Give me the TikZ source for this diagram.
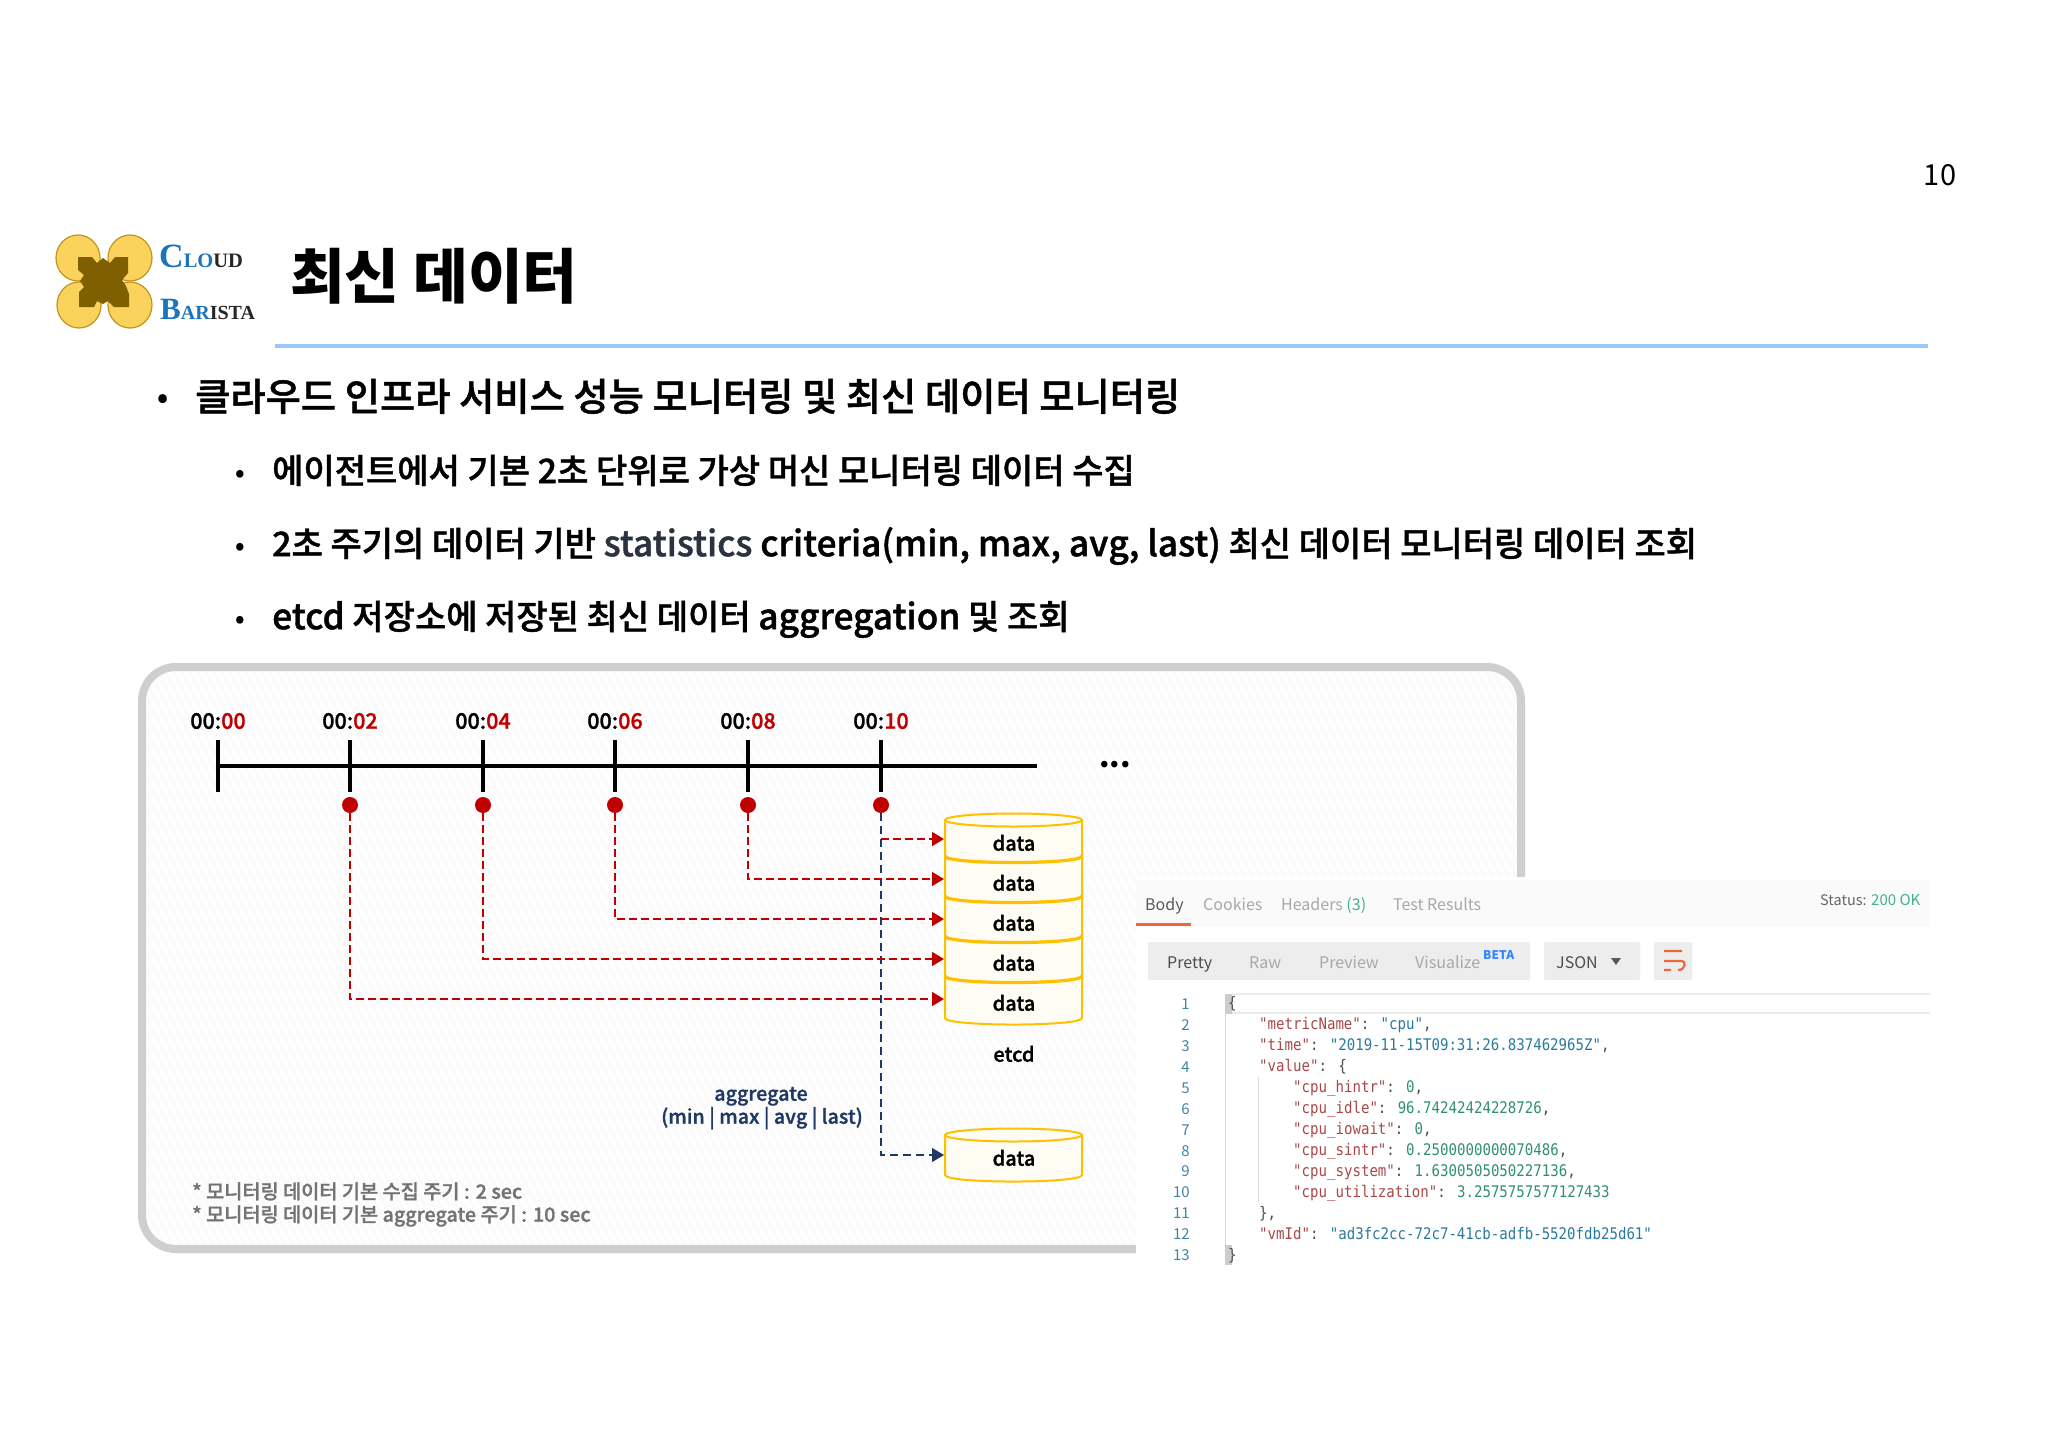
\documentclass[tikz,border=0pt]{standalone}
\usepackage{fontspec}
\setmainfont{Noto Sans CJK KR}
\newfontfamily\krm[FakeBold=1.2]{Noto Sans CJK KR Medium}
\newfontfamily\serifl{Liberation Serif}
\newfontfamily\monol[FakeStretch=0.88]{DejaVu Sans Mono}
\usetikzlibrary{arrows.meta,calc}
\newcommand\fs[1]{\fontsize{#1}{#1}\selectfont}
\definecolor{panelgray}{HTML}{D0CECE}
\definecolor{gold}{HTML}{FFC000}
\definecolor{cylfill}{HTML}{FFFDF3}
\definecolor{darkred}{HTML}{C00000}
\definecolor{navy}{HTML}{1F3864}
\definecolor{keyc}{HTML}{A8484A}
\definecolor{strc}{HTML}{2A7A9E}
\definecolor{numc}{HTML}{2F9070}
\definecolor{gutc}{HTML}{3C86A8}
\definecolor{tabg}{HTML}{A8A8A8}
\definecolor{orangeb}{HTML}{F0663A}
\definecolor{okg}{HTML}{45B08C}
\definecolor{logoblue}{HTML}{1B75BC}
\definecolor{lobe}{HTML}{FBD35C}
\definecolor{lobeline}{HTML}{BF9420}
\definecolor{logobrown}{HTML}{7F6000}
\definecolor{rulec}{HTML}{99C8FA}
\tikzset{
  txt/.style={inner sep=0pt,anchor=mid west,font=\krm},
  ctr/.style={inner sep=0pt,anchor=mid,font=\krm},
  tab/.style={inner sep=0pt,anchor=mid west,text=tabg,font=\fs{16}},
  reddash/.style={draw=darkred,line width=1.6pt,dash pattern=on 8pt off 4pt,-{Triangle[length=12pt,width=14pt]}},
  navydash/.style={draw=navy,line width=1.2pt,dash pattern=on 8pt off 5pt,-{Triangle[length=12pt,width=14pt]}},
  dot/.style={circle,fill=darkred,inner sep=0pt,minimum size=16pt},
  cyl/.style={draw=gold,line width=2pt,fill=cylfill},
  tickm/.style={line width=3.2pt,black},
  code/.style={inner sep=0pt,anchor=mid west,font=\monol\fs{16}},
  lno/.style={inner sep=0pt,anchor=mid east,text=gutc,font=\fs{15}},
}
\newcommand\jk[1]{\textcolor{keyc}{#1}}
\newcommand\js[1]{\textcolor{strc}{#1}}
\newcommand\jn[1]{\textcolor{numc}{#1}}
\newcommand\jp[1]{\textcolor{black!70}{#1}}
\begin{document}
\begin{tikzpicture}[x=1pt,y=-1pt]
\useasboundingbox (0,0) rectangle (2048,1449);
\fill[white] (0,0) rectangle (2048,1449);
% page number
\node[inner sep=0pt,font=\fs{29}] (pageno) at (1940,175) {10};
% logo
\foreach \cx/\cy in {78/258,130/258,79/305,130/305}
  \draw[draw=lobeline,line width=1.2pt,fill=lobe] (\cx,\cy) ellipse (22 and 23);
\fill[logobrown] (78,257) -- (92,257) -- (97,263) -- (103,258) -- (110,263) -- (115,257) -- (128,257) -- (128,273) -- (122,280) -- (126,286) -- (129,294) -- (129,307) -- (114,307) -- (108,301) -- (103,304) -- (97,301) -- (94,307) -- (79,307) -- (79,292) -- (84,287) -- (80,281) -- (84,275) -- (78,270) -- cycle;
\node[inner sep=0pt,anchor=mid west] (logoa) at (159,265) {\serifl\bfseries\fs{34}\textcolor{logoblue}{C}\fs{20.5}\textcolor{logoblue}{LO}\textcolor{black!85}{UD}};
\node[inner sep=0pt,anchor=mid west] (logob) at (160,317) {\serifl\bfseries\fs{31}\textcolor{logoblue}{B}\fs{20}\textcolor{logoblue}{AR}\textcolor{black!85}{ISTA}};
% title
\node[txt,font=\bfseries\fs{59.5}] (title) at (290,296) {최신 데이터};
\coordinate (ruleA) at (275,346);
\coordinate (ruleB) at (1928,346);
\draw[line width=4pt,rulec] (ruleA) -- (ruleB);
% bullets
\node[ctr,font=\bfseries\fs{28}] (b0) at (163,405) {•};
\node[txt,font=\krm\fs{38.3}] (t0) at (195,408) {클라우드 인프라 서비스 성능 모니터링 및 최신 데이터 모니터링};
\node[ctr,font=\bfseries\fs{24}] (b1) at (240,479) {•};
\node[txt,font=\krm\fs{34}] (t1) at (272,480.5) {에이전트에서 기본 2초 단위로 가상 머신 모니터링 데이터 수집};
\node[ctr,font=\bfseries\fs{24}] (b2) at (240,552) {•};
\node[txt,font=\krm\fs{34}] (t2) at (272,553.5) {2초 주기의 데이터 기반 {\fs{35.3}\textcolor[HTML]{2B3340}{statistics} criteria(min, max, avg, last)} 최신 데이터 모니터링 데이터 조회};
\node[ctr,font=\bfseries\fs{24}] (b3) at (240,625) {•};
\node[txt,font=\krm\fs{34}] (t3) at (272,626.5) {{\fs{35.3}etcd} 저장소에 저장된 최신 데이터 {\fs{35.3}aggregation} 및 조회};
% panel
\fill[fill={rgb,255:red,253;green,253;blue,254},rounded corners=34pt] (142,667) rectangle (1521,1249);
\begin{scope}
\clip[rounded corners=34pt] (142,667) rectangle (1521,1249);
\foreach \i in {-400,-392,...,1520}
  \draw[black!2.5,line width=1.5pt] (\i,660) -- ({\i+300},1260);
\end{scope}
\draw[draw=panelgray,line width=8pt,rounded corners=34pt] (142,667) rectangle (1521,1249);
% timeline
\coordinate (axisA) at (218,766);
\coordinate (axisB) at (1037,766);
\draw[line width=3.6pt,black] (axisA) -- (axisB);
\foreach \x/\a/\b in {218/00/00,350/00/02,483/00/04,615/00/06,748/00/08,881/00/10}{
  \coordinate (tu\b) at (\x,740);
  \coordinate (td\b) at (\x,792);
  \draw[tickm] (tu\b) -- (td\b);
  \node[ctr,font=\krm\fs{21.5}] (lab\b) at (\x,726) {\a:\textcolor{darkred}{\b}};
}
\node[ctr,font=\bfseries\fs{30}] (more) at (1115,765) {...};
\foreach \b/\x in {02/350,04/483,06/615,08/748,10/881}
  \node[dot] (d\b) at (\x,805) {};
% etcd cylinder
\path[cyl,draw=none] (945,820) -- (945,1018) .. controls +(0,8.7) and +(0,8.7) .. (1082,1018) -- (1082,820) -- cycle;
\draw[cyl,fill=none] (945,820) -- (945,1018) .. controls +(0,8.7) and +(0,8.7) .. (1082,1018) -- (1082,820);
\foreach \y in {856,896,936,976}
  \draw[draw=gold,line width=3.2pt] (945,\y) .. controls +(0,8.7) and +(0,8.7) .. (1082,\y);
\draw[cyl,fill=cylfill] (1013.5,820) ellipse (68.5 and 6.5);
\foreach \y/\n in {848/1,888/2,928/3,968/4,1008/5}
  \node[ctr,font=\krm\fs{20}] (data\n) at (1014,\y) {data};
\node[ctr,font=\krm\fs{20}] (etcd) at (1014,1059) {etcd};
% aggregate cylinder
\path[fill=cylfill] (945,1135) -- (945,1175) .. controls +(0,8.7) and +(0,8.7) .. (1082,1175) -- (1082,1135) -- cycle;
\draw[cyl,fill=none] (945,1135) -- (945,1175) .. controls +(0,8.7) and +(0,8.7) .. (1082,1175) -- (1082,1135);
\draw[cyl,fill=cylfill] (1013.5,1135) ellipse (68.5 and 6.5);
\node[ctr,font=\krm\fs{20}] (data6) at (1014,1163) {data};
% connectors
\foreach \n/\y in {a/839,b/879,c/919,d/959,e/999}
  \coordinate (in\n) at (944,\y);
\coordinate (agg) at (944,1155);
\coordinate (br10) at (881,839);
\draw[navydash] (d10.south) |- (agg);
\draw[reddash] (br10) -- (ina);
\draw[reddash] (d08.south) |- (inb);
\draw[reddash] (d06.south) |- (inc);
\draw[reddash] (d04.south) |- (ind);
\draw[reddash] (d02.south) |- (ine);
\node[ctr,text=navy,font=\krm\fs{19.7}] (aggr1) at (761,1098) {aggregate};
\node[ctr,text=navy,font=\krm\fs{19.7}] (aggr2) at (762,1121) {(min | max | avg | last)};
\node[txt,text=black!55,font=\krm\fs{19.7}] (note1) at (192,1196) {* 모니터링 데이터 기본 수집 주기 : 2 sec};
\node[txt,text=black!55,font=\krm\fs{19.7}] (note2) at (192,1219) {* 모니터링 데이터 기본 aggregate 주기 : 10 sec};
% screenshot
\fill[white] (1136,877) rectangle (1945,1290);
\fill[black!2] (1136,880) rectangle (1930,927);
\node[tab,text=black!65] (tabBody) at (1145,908) {Body};
\node[tab] (tabCookies) at (1203,908) {Cookies};
\node[tab] (tabHeaders) at (1281,908) {Headers \textcolor{okg}{(3)}};
\node[tab] (tabTest) at (1393,908) {Test Results};
\coordinate (ulA) at (1136,924); \coordinate (ulB) at (1191,924);
\draw[orangeb,line width=3pt] (ulA) -- (ulB);
\node[tab,text=black!60,font=\fs{14.5}] (status) at (1820,903) {Status:};
\node[tab,text=okg,font=\fs{15}] (okstat) at (1871,903) {200 OK};
\fill[black!7,rounded corners=2pt] (1148,942) rectangle (1530,980);
\fill[black!7,rounded corners=2pt] (1544,942) rectangle (1640,980);
\fill[black!7,rounded corners=2pt] (1654,942) rectangle (1692,980);
\node[tab,text=black!70] (pretty) at (1167,966) {Pretty};
\node[tab] (raw) at (1249,966) {Raw};
\node[tab] (preview) at (1319,966) {Preview};
\node[tab] (visualize) at (1415,966) {Visualize};
\node[tab,text=blue!60!cyan!80,font=\bfseries\fs{12}] (beta) at (1483,957) {BETA};
\node[tab,text=black!70] (json) at (1556,966) {JSON};
\fill[black!65] (1611,958) -- (1621,958) -- (1616,965) -- cycle;
\draw[orangeb,line width=2.2pt] (1664,951) -- (1682,951) (1664,961) -- (1682,961) .. controls (1686,961) and (1686,970) .. (1678,970) (1664,970) -- (1671,970);
% code area
\draw[black!8,line width=1.4pt] (1232,994) -- (1930,994) (1232,1013) -- (1930,1013);
\fill[black!20] (1225,994) rectangle (1232,1014);
\fill[black!20] (1225,1245) rectangle (1232,1265);
\draw[black!15,line width=1pt] (1225,1014) -- (1225,1245);
\draw[black!15,line width=1pt] (1258.5,1077) -- (1258.5,1202);
\foreach \n in {1,...,13}
  \node[lno] (ln\n) at (1190,{1007+20.9*(\n-1)}) {\n};
\node[code] (c1) at (1228,1006) {\jp{\{}};
\node[code] (c2) at (1259,1027) {\jk{"metricName"}\jp{: }\js{"cpu"}\jp{,}};
\node[code] (c3) at (1259,1048) {\jk{"time"}\jp{: }\js{"2019-11-15T09:31:26.837462965Z"}\jp{,}};
\node[code] (c4) at (1259,1069) {\jk{"value"}\jp{: \{}};
\node[code] (c5) at (1293,1090) {\jk{"cpu\_hintr"}\jp{: }\jn{0}\jp{,}};
\node[code] (c6) at (1293,1111) {\jk{"cpu\_idle"}\jp{: }\jn{96.74242424228726}\jp{,}};
\node[code] (c7) at (1293,1132) {\jk{"cpu\_iowait"}\jp{: }\jn{0}\jp{,}};
\node[code] (c8) at (1293,1153) {\jk{"cpu\_sintr"}\jp{: }\jn{0.2500000000070486}\jp{,}};
\node[code] (c9) at (1293,1174) {\jk{"cpu\_system"}\jp{: }\jn{1.6300505050227136}\jp{,}};
\node[code] (c10) at (1293,1195) {\jk{"cpu\_utilization"}\jp{: }\jn{3.2575757577127433}};
\node[code] (c11) at (1259,1216) {\jp{\},}};
\node[code] (c12) at (1259,1237) {\jk{"vmId"}\jp{: }\js{"ad3fc2cc-72c7-41cb-adfb-5520fdb25d61"}};
\node[code] (c13) at (1228,1258) {\jp{\}}};
\end{tikzpicture}
\end{document}
